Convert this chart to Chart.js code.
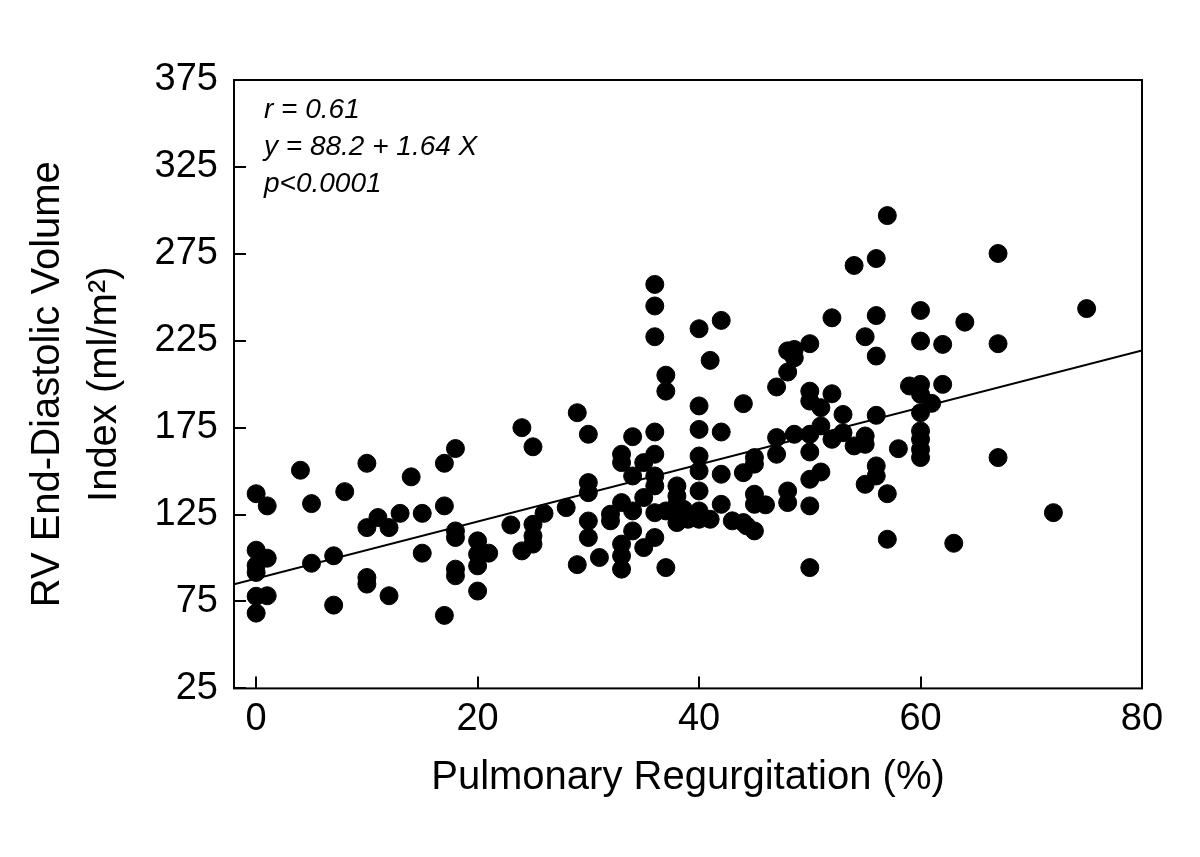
<!DOCTYPE html>
<html>
<head>
<meta charset="utf-8">
<script src="https://cdn.jsdelivr.net/npm/chart.js@4/dist/chart.umd.min.js"></script>
<style>
  html, body { margin: 0; padding: 0; background: #fff; }
  #wrap { width: 1200px; height: 857px; }
</style>
</head>
<body>
<div id="wrap"><canvas id="prChart" width="1200" height="857"></canvas></div>
<script>
// Pulmonary regurgitation (%) vs RV end-diastolic volume index
const prValues = [
  0, 0, 0, 0, 0, 0,
  1, 1, 1,
  4, 5, 5, 7, 7, 8,
  10, 10, 10, 10, 11, 12, 12, 13, 14, 15, 15,
  17, 17, 17, 18, 18, 18, 18, 18,
  20, 20, 20, 20, 21, 23, 24, 24, 25, 25, 25, 25, 26, 28, 29, 29,
  30, 30, 30, 30, 30, 31, 32, 32,
  33, 33, 33, 33, 33, 33, 34, 34, 34, 34, 35, 35, 35,
  36, 36, 36, 36, 36, 36, 36, 36, 36,
  37, 37, 37, 37, 38, 38, 38, 38, 38.6, 39,
  40, 40, 40, 40, 40, 40, 40, 40, 41, 41,
  42, 42, 42, 42, 43, 44, 44, 44, 44.3,
  45, 45, 45, 45, 45, 46, 47, 47, 47, 48, 48, 48, 48, 48.6, 48.6, 48.6,
  50, 50, 50, 50, 50, 50, 50, 50, 51, 51, 51, 52, 52, 52, 53, 53, 54, 54,
  55, 55, 55, 55, 56, 56, 56, 56, 56, 56, 57, 57, 57, 58, 59,
  60, 60, 60, 60, 60, 60, 60, 60, 60, 61, 62, 62, 63, 64, 67, 67, 67, 72, 75
];
const edviValues = [
  137, 104.5, 95.7, 91.7, 78, 68.3,
  130, 99.9, 78.3,
  150.5, 131.3, 97, 101.3, 72.9, 138.2,
  154.5, 117.5, 88.8, 85, 123.3, 117.5, 78.3, 125.7, 146.7, 125.7, 102.8,
  154.5, 130, 67, 163, 115.6, 111.8, 93.6, 89.8,
  109.9, 102.2, 95.5, 81, 102.8, 119, 175, 104.1, 164, 119.4, 112.7, 108, 125.7, 129, 183.6, 96.2,
  171.2, 143.4, 137.6, 121.3, 111.8, 100.3, 125.2, 121.4,
  159.7, 154.9, 131.9, 108, 101.3, 93.6, 169.8, 147.2, 127.1, 115.6, 154.9, 134.8, 106,
  257.4, 245, 227.3, 172.5, 159.7, 147.2, 141.5, 126.1, 111.8,
  205.2, 196, 127.1, 94.5, 141.5, 135.7, 130.9, 120.4, 128, 122.3,
  231.9, 187.5, 174, 158.7, 150.1, 138.6, 127.1, 122.3, 213.7, 122.3,
  236.7, 172.5, 148.2, 130.9, 121.4, 188.8, 149.1, 120.4, 118.5,
  157.8, 154, 136.7, 130.9, 115.6, 130.6, 198.4, 169.3, 159.7, 219.2, 207, 138.6, 131.9, 220, 215.2, 171.2,
  223.3, 196, 190.3, 171.2, 161, 145.3, 130, 94.5, 186.5, 176, 149.5, 238.2, 194.5, 168.3, 182.6, 172.1, 268.3, 164.5,
  227.3, 170.2, 165.4, 142.4, 272.3, 239.5, 216.2, 182.1, 153, 147.2, 297, 137, 110.8, 162.9, 199,
  242.4, 224.8, 199.9, 194.2, 183.6, 173.1, 168.3, 162.5, 157.8, 189, 222.9, 199.9, 108.5, 235.7, 275.2, 223.3, 157.8, 126.1, 243.5
];

// regression from the figure: y = 88.2 + 1.64 X
const fitIntercept = 88.2;
const fitSlope = 1.64;
const fitRange = [-2, 80];

const xTicks = [0, 20, 40, 60, 80];
const yTicks = [25, 75, 125, 175, 225, 275, 325, 375];

const statsText = ['r = 0.61', 'y = 88.2 + 1.64 X', 'p<0.0001'];

const points = prValues.map((v, i) => ({ x: v, y: edviValues[i] }));
const fitLine = fitRange.map(v => ({ x: v, y: fitIntercept + fitSlope * v }));

// frame, inward ticks and the stats block
const framePlugin = {
    id: 'frame',
    afterDraw(chart) {
        const { ctx, chartArea: a, scales } = chart;
        ctx.save();
        ctx.strokeStyle = '#000';
        ctx.lineWidth = 2;
        ctx.strokeRect(a.left, a.top, a.right - a.left, a.bottom - a.top);
        ctx.beginPath();
        yTicks.forEach(v => {
            const py = Math.round(scales.y.getPixelForValue(v));
            ctx.moveTo(a.left, py);
            ctx.lineTo(a.left + 12, py);
        });
        xTicks.forEach(v => {
            const px = Math.round(scales.x.getPixelForValue(v));
            ctx.moveTo(px, a.bottom);
            ctx.lineTo(px, a.bottom - 12);
        });
        ctx.stroke();

        ctx.fillStyle = '#000';
        ctx.font = 'italic 28px "Liberation Sans", Arial, sans-serif';
        ctx.textBaseline = 'middle';
        statsText.forEach((t, i) => {
            ctx.fillText(t, a.left + 30, a.top + 30 + i * 37);
        });
        ctx.restore();
    }
};

const ctx = document.getElementById('prChart').getContext('2d');
const prChart = new Chart(ctx, {
    type: 'scatter',
    data: {
        datasets: [
            {
                label: 'Patients',
                data: points,
                backgroundColor: '#000',
                borderColor: '#000',
                pointRadius: 9,
                pointHoverRadius: 9
            },
            {
                type: 'line',
                label: 'Fit',
                data: fitLine,
                borderColor: '#000',
                borderWidth: 2,
                pointRadius: 0,
                fill: false
            }
        ]
    },
    plugins: [framePlugin],
    options: {
        responsive: false,
        animation: false,
        layout: { padding: { left: 20, right: 58, top: 80, bottom: 55 } },
        plugins: {
            legend: { display: false },
            tooltip: { enabled: false }
        },
        scales: {
            x: {
                type: 'linear',
                min: -2,
                max: 80,
                afterBuildTicks: scale => { scale.ticks = xTicks.map(v => ({ value: v })); },
                grid: { display: false, drawTicks: false },
                border: { display: false },
                ticks: {
                    color: '#000',
                    padding: 8,
                    maxRotation: 0,
                    font: { family: '"Liberation Sans", Arial', size: 38 }
                },
                title: {
                    display: true,
                    text: 'Pulmonary Regurgitation (%)',
                    color: '#000',
                    padding: { top: 4, bottom: 0 },
                    font: { family: '"Liberation Sans", Arial', size: 40 }
                }
            },
            y: {
                type: 'linear',
                min: 25,
                max: 375,
                afterBuildTicks: scale => { scale.ticks = yTicks.map(v => ({ value: v })); },
                grid: { display: false, drawTicks: false },
                border: { display: false },
                ticks: {
                    color: '#000',
                    padding: 16,
                    font: { family: '"Liberation Sans", Arial', size: 38 }
                },
                title: {
                    display: true,
                    text: ['RV End-Diastolic Volume', 'Index (ml/m\u00B2)'],
                    color: '#000',
                    padding: { top: 0, bottom: 5 },
                    font: { family: '"Liberation Sans", Arial', size: 40, lineHeight: 1.42 }
                }
            }
        }
    }
});
</script>
</body>
</html>
